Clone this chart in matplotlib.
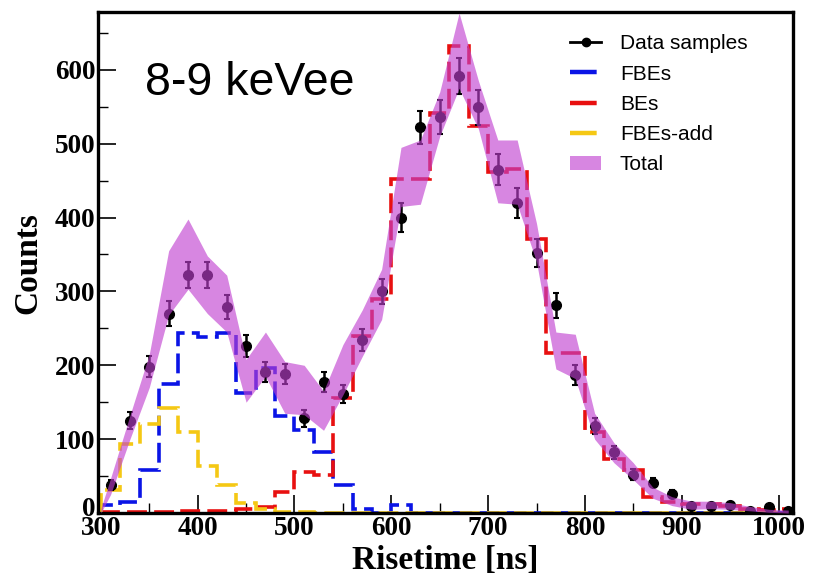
import numpy as np
import matplotlib
matplotlib.use("Agg")
import matplotlib.pyplot as plt
import matplotlib.transforms as mtransforms
from matplotlib.lines import Line2D
from matplotlib.patches import Patch

# Bin edges (20 ns bins) and bin centres
edges = np.arange(300, 1040, 20)
centers = edges[:-1] + 10

# Data samples (counts) and their errors
data_counts = [38, 125, 198, 270, 322, 322, 279, 226, 191, 188,
               128, 177, 161, 234, 300, 400, 522, 536, 592, 549,
               465, 420, 352, 281, 187, 118, 82, 52, 41, 26,
               10, 10, 11, 3, 8, 3]
data_err = [6.2, 11.2, 14.1, 16.4, 17.9, 17.9, 16.7, 15.0, 13.8, 13.7,
            11.3, 13.3, 12.7, 15.3, 17.3, 20.0, 22.8, 23.2, 24.3, 23.4,
            21.6, 20.5, 18.8, 16.8, 13.7, 10.9, 9.1, 7.2, 6.4, 5.1,
            3.2, 3.2, 3.3, 1.7, 2.8, 1.7]

# Fitted components (per bin)
fbes = [11, 15, 58, 174, 244, 238, 244, 162, 196, 131,
        113, 83, 38, 6, 0, 11, 0, 0, 0, 0,
        0, 0, 0, 0, 0, 0, 0, 0, 0, 0,
        0, 0, 0, 0, 0, 0]
bes = [1, 2, 2, 2, 3, 3, 3, 5, 8, 29,
       55, 52, 156, 239, 290, 452, 452, 541, 632, 524,
       462, 466, 371, 217, 217, 110, 73, 58, 22, 15,
       12, 12, 10, 6, 4, 5]
fbes_add = [31, 94, 121, 142, 109, 64, 38, 13, 6, 2,
            1, 0, 0, 0, 0, 0, 0, 0, 0, 0,
            0, 0, 0, 0, 0, 0, 0, 0, 0, 0,
            0, 0, 0, 0, 0, 0]

# Total fit band (lower / upper edge)
band_x = [300, 310, 330, 350, 370, 390, 410, 430, 450, 470, 490,
          510, 530, 550, 570, 590, 610, 630, 650, 670, 690,
          710, 730, 750, 770, 790, 810, 830, 850, 870, 890,
          910, 930, 950, 970, 990, 1010]
band_lo = [0, 25, 100, 170, 268, 303, 270, 245, 150, 185, 135,
           133, 112, 160, 212, 262, 415, 418, 510, 575, 520,
           420, 418, 340, 195, 182, 100, 68, 45, 20, 10,
           5, 6, 5, 3, 1, 0]
band_hi = [6, 47, 132, 215, 355, 398, 348, 322, 208, 245, 205,
           200, 165, 228, 275, 330, 495, 505, 570, 677, 585,
           505, 505, 392, 245, 242, 135, 95, 68, 35, 22,
           16, 16, 14, 9, 5, 4]

blue = "#0a14e6"
red = "#e81010"
yellow = "#f5c814"
band_color = "#c040d0"

fig = plt.figure(figsize=(8.13, 5.75), dpi=100)
ax = fig.add_axes([0.1205, 0.1078, 0.855, 0.871])

# Component histograms
dash = (5.5, 2)
ax.stairs(fbes, edges, color=blue, lw=2.6, linestyle=(0, dash), zorder=2)
ax.stairs(bes, edges, color=red, lw=2.6, linestyle=(0, dash), zorder=2)
ax.stairs(fbes_add, edges, color=yellow, lw=2.6, linestyle=(0, dash), zorder=2)

# Data points
ax.errorbar(centers, data_counts, yerr=data_err, fmt="o", color="black",
            ms=7, elinewidth=1.8, capsize=2.5, capthick=1.5, zorder=3)

# Total band on top
ax.fill_between(band_x, band_lo, band_hi, color=band_color, alpha=0.63,
                lw=0, zorder=4)

ax.set_xlim(297, 1015)
ax.set_ylim(0, 678)

serif = {"family": "Liberation Serif", "weight": "bold"}
ax.set_xticks(np.arange(300, 1001, 100))
ax.set_xticks(np.arange(350, 1001, 100), minor=True)
ax.set_yticks(np.arange(0, 601, 100))
ax.set_yticks(np.arange(50, 678, 100), minor=True)
ax.tick_params(which="major", direction="in", length=13, width=1.2,
               labelsize=19.5, pad=2)
ax.tick_params(which="minor", direction="in", length=7, width=1.0)
for lab in ax.get_xticklabels() + ax.get_yticklabels():
    lab.set_fontfamily("Liberation Serif")
    lab.set_fontweight("bold")
for sp in ax.spines.values():
    sp.set_linewidth(2.4)

# lift the "0" label a little so it clears "300"
zero_lab = ax.get_yticklabels()[0]
zero_lab.set_transform(zero_lab.get_transform() +
                       mtransforms.ScaledTranslation(0, 5 / 72, fig.dpi_scale_trans))

ax.set_xlabel("Risetime [ns]", fontdict=serif, fontsize=24, labelpad=3)
ax.set_ylabel("Counts", fontdict=serif, fontsize=24, labelpad=8)

ax.text(0.068, 0.835, "8-9 keVee", transform=ax.transAxes, va="baseline",
        fontsize=33.5, family="Liberation Sans")

# Legend
handles = [
    Line2D([], [], color="black", marker="o", ms=6, lw=2),
    Line2D([], [], color=blue, lw=3.2, dashes=(6, 2.2, 1.2, 2.2)),
    Line2D([], [], color=red, lw=3.2, dashes=(6, 2.2, 1.2, 2.2)),
    Line2D([], [], color=yellow, lw=3.2, dashes=(6, 2.2, 1.2, 2.2)),
    Patch(facecolor=band_color, alpha=0.63, lw=0),
]
labels = ["Data samples", "FBEs", "BEs", "FBEs-add", "Total"]
ax.legend(handles, labels, loc="upper left", bbox_to_anchor=(0.652, 0.993),
          frameon=False, prop={"family": "Liberation Sans", "size": 15},
          handlelength=1.5, handletextpad=0.9, labelspacing=0.54)

fig.savefig("out.png", dpi=100)
